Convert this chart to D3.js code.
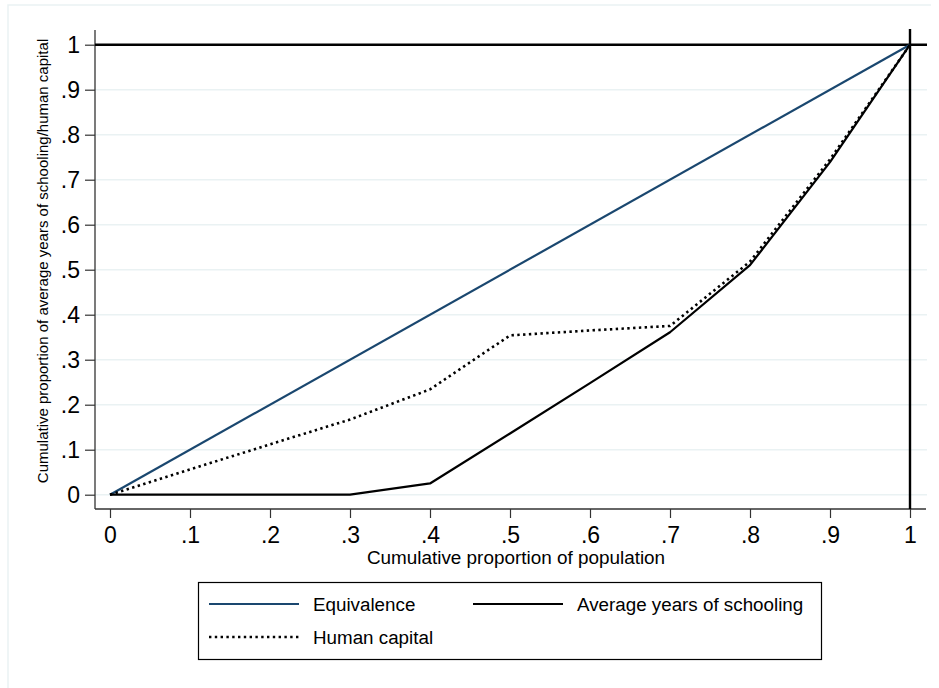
<!DOCTYPE html>
<html>
<head>
<meta charset="utf-8">
<script src="https://cdn.jsdelivr.net/npm/d3@7"></script>
<style>
  html, body { margin: 0; padding: 0; background: #ffffff; }
  svg { display: block; font-family: "Liberation Sans", Arial, sans-serif; }
</style>
</head>
<body>
<svg id="chart" width="939" height="688"></svg>
<script>
// Cumulative proportion of population (x) for each decile
const popShare = [0, 0.1, 0.2, 0.3, 0.4, 0.5, 0.6, 0.7, 0.8, 0.9, 1];
// Cumulative share of average years of schooling
const schooling = [0, 0, 0, 0, 0.025, 0.136, 0.248, 0.361, 0.510, 0.739, 1];
// Cumulative share of human capital
const humanCapital = [0, 0.056, 0.112, 0.167, 0.234, 0.354, 0.365, 0.375, 0.518, 0.745, 1];
// Line of perfect equality
const equivX = [0, 1];
const equivY = [0, 1];

const xTicks = [0, 0.1, 0.2, 0.3, 0.4, 0.5, 0.6, 0.7, 0.8, 0.9, 1];
const yTicks = [0, 0.1, 0.2, 0.3, 0.4, 0.5, 0.6, 0.7, 0.8, 0.9, 1];

const xTitle = "Cumulative proportion of population";
const yTitle = "Cumulative proportion of average years of schooling/human capital";
const legendLabels = ["Equivalence", "Average years of schooling", "Human capital"];

const navy = "#1a476f";
const gridColor = "#eaf2f3";

const svg = d3.select("#chart");

// Plot area bounds
const plot = { left: 95, right: 926, top: 30, bottom: 509 };

const x = d3.scaleLinear().domain([0, 1]).range([110, 910]);
const y = d3.scaleLinear().domain([0, 1]).range([494.7, 44.7]);

const fmt = d => d === 0 ? "0" : d === 1 ? "1" : d3.format(".1f")(d).replace(/^0/, "");

// Outer graph-region border (left and top edges)
svg.append("path")
  .attr("d", `M8,688 V5 H931`)
  .attr("fill", "none")
  .attr("stroke", gridColor)
  .attr("stroke-width", 1.5);

// Horizontal grid lines
svg.append("g")
  .selectAll("line")
  .data(yTicks)
  .join("line")
  .attr("x1", plot.left)
  .attr("x2", plot.right + 1)
  .attr("y1", d => y(d))
  .attr("y2", d => y(d))
  .attr("stroke", gridColor)
  .attr("stroke-width", 1.5);

// Y axis
const yAxis = d3.axisLeft(y)
  .tickValues(yTicks)
  .tickFormat(fmt)
  .tickSizeInner(10)
  .tickSizeOuter(0)
  .tickPadding(5);

const gy = svg.append("g")
  .attr("transform", `translate(${plot.left},0)`)
  .call(yAxis);
gy.select(".domain").remove();
gy.selectAll(".tick line").attr("stroke", "#333").attr("stroke-width", 1.2);
gy.selectAll(".tick text")
  .attr("font-size", 23)
  .attr("font-family", "Liberation Sans, Arial, sans-serif")
  .attr("fill", "#000");
gy.append("line")
  .attr("x1", 0).attr("x2", 0)
  .attr("y1", plot.top).attr("y2", plot.bottom)
  .attr("stroke", "#333").attr("stroke-width", 1.3);

// X axis
const xAxis = d3.axisBottom(x)
  .tickValues(xTicks)
  .tickFormat(fmt)
  .tickSizeInner(9)
  .tickSizeOuter(0)
  .tickPadding(9);

const gx = svg.append("g")
  .attr("transform", `translate(0,${plot.bottom})`)
  .call(xAxis);
gx.select(".domain").remove();
gx.selectAll(".tick line").attr("stroke", "#333").attr("stroke-width", 1.2);
gx.selectAll(".tick text")
  .attr("font-size", 23)
  .attr("font-family", "Liberation Sans, Arial, sans-serif")
  .attr("fill", "#000");
gx.append("line")
  .attr("x1", plot.left).attr("x2", plot.right)
  .attr("y1", 0).attr("y2", 0)
  .attr("stroke", "#333").attr("stroke-width", 1.3);

// Reference lines at y = 1 and x = 1
svg.append("line")
  .attr("x1", plot.left).attr("x2", plot.right + 1)
  .attr("y1", y(1)).attr("y2", y(1))
  .attr("stroke", "#000").attr("stroke-width", 2.4);
svg.append("line")
  .attr("x1", x(1)).attr("x2", x(1))
  .attr("y1", plot.top - 1).attr("y2", plot.bottom)
  .attr("stroke", "#000").attr("stroke-width", 2.4);

// Lorenz-type curves
const line = d3.line().x(d => x(d[0])).y(d => y(d[1]));

svg.append("path")
  .datum(d3.zip(equivX, equivY))
  .attr("d", line)
  .attr("fill", "none")
  .attr("stroke", navy)
  .attr("stroke-width", 2.2);

svg.append("path")
  .datum(d3.zip(popShare, schooling))
  .attr("d", line)
  .attr("fill", "none")
  .attr("stroke", "#000")
  .attr("stroke-width", 2.2)
  .attr("stroke-linejoin", "round");

svg.append("path")
  .datum(d3.zip(popShare, humanCapital))
  .attr("d", line)
  .attr("fill", "none")
  .attr("stroke", "#000")
  .attr("stroke-width", 2.6)
  .attr("stroke-dasharray", "2.4 3.4");

// Axis titles
svg.append("text")
  .attr("x", 516)
  .attr("y", 564)
  .attr("text-anchor", "middle")
  .attr("font-size", 18.9)
  .attr("fill", "#000")
  .text(xTitle);

svg.append("text")
  .attr("transform", `translate(48,261) rotate(-90)`)
  .attr("text-anchor", "middle")
  .attr("font-size", 15)
  .attr("fill", "#000")
  .text(yTitle);

// Legend
const legend = svg.append("g");
legend.append("rect")
  .attr("x", 198.5).attr("y", 582.5)
  .attr("width", 623).attr("height", 77)
  .attr("fill", "#fff")
  .attr("stroke", "#000")
  .attr("stroke-width", 1.2);

const legendItems = [
  { label: legendLabels[0], color: navy, dash: null, w: 2.2, lx: 209, ly: 604 },
  { label: legendLabels[1], color: "#000", dash: null, w: 2.2, lx: 473, ly: 604 },
  { label: legendLabels[2], color: "#000", dash: "2.4 3.4", w: 2.6, lx: 209, ly: 637 }
];

legendItems.forEach(it => {
  legend.append("line")
    .attr("x1", it.lx).attr("x2", it.lx + 90)
    .attr("y1", it.ly).attr("y2", it.ly)
    .attr("stroke", it.color)
    .attr("stroke-width", it.w)
    .attr("stroke-dasharray", it.dash);
  legend.append("text")
    .attr("x", it.lx + 104)
    .attr("y", it.ly + 7)
    .attr("font-size", 18.8)
    .attr("fill", "#000")
    .text(it.label);
});
</script>
</body>
</html>
